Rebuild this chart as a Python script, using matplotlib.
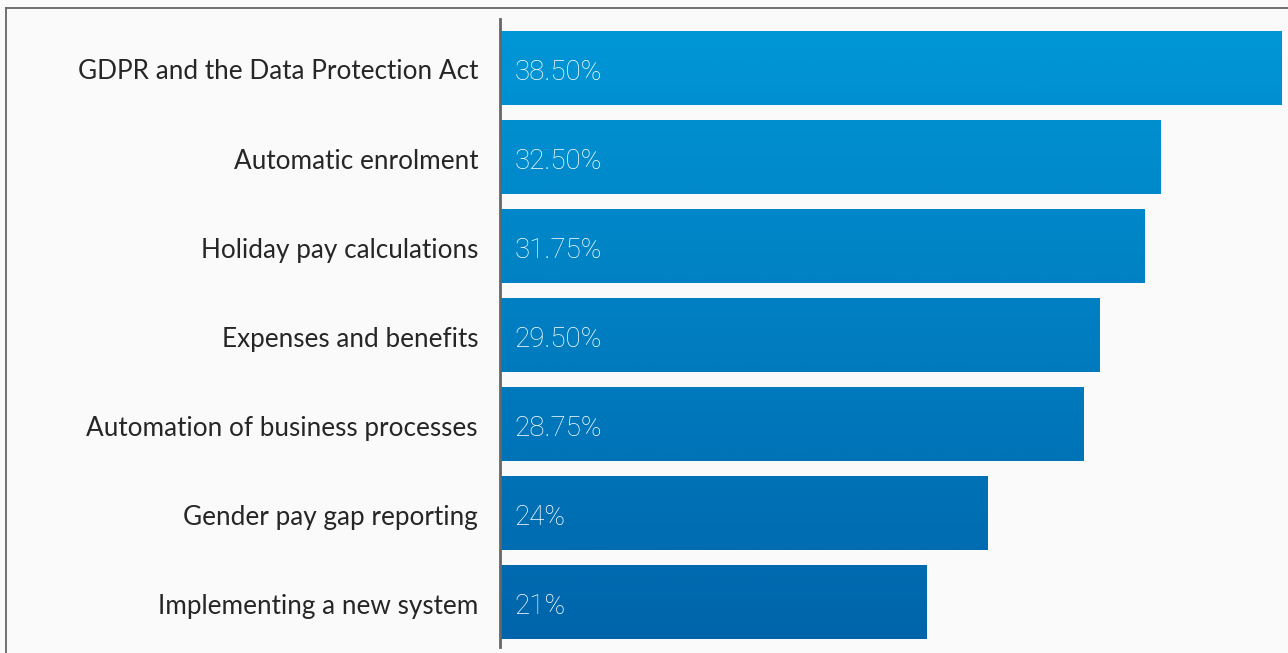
import numpy as np
import matplotlib
matplotlib.use("Agg")
import matplotlib.pyplot as plt
import matplotlib.transforms as mtransforms
from matplotlib.colors import LinearSegmentedColormap
from matplotlib.lines import Line2D

# survey topics and share of respondents
topics = ["GDPR and the Data Protection Act",
          "Automatic enrolment",
          "Holiday pay calculations",
          "Expenses and benefits",
          "Automation of business processes",
          "Gender pay gap reporting",
          "Implementing a new system"]
shares = [38.50, 32.50, 31.75, 29.50, 28.75, 24, 21]
share_labels = ["38.50%", "32.50%", "31.75%", "29.50%", "28.75%", "24%", "21%"]

bg = "#fafafa"
fig = plt.figure(figsize=(12.88, 6.53), dpi=100, facecolor=bg)
ax = fig.add_axes([500/1288, 6/653, 788/1288, 628/653], facecolor=bg)

ypos = np.arange(len(topics))
ylo, yhi = 6.5, -0.55

# blue gradient running down the whole chart
grad = LinearSegmentedColormap.from_list("blues", ["#0097d7", "#0064aa"])
bars = ax.barh(ypos, shares, height=0.83, color="#0080c0", zorder=2)
for b in bars:
    y0 = b.get_y()
    y1 = y0 + b.get_height()
    t0 = (y0 - yhi) / (ylo - yhi)
    t1 = (y1 - yhi) / (ylo - yhi)
    g = np.linspace(t0, t1, 50).reshape(-1, 1)
    im = ax.imshow(g, cmap=grad, vmin=0, vmax=1, aspect="auto",
                   extent=(0, b.get_width(), y1, y0), zorder=3,
                   interpolation="bilinear")
    im.set_clip_path(b)

for y, lab in zip(ypos, share_labels):
    ax.text(0.7, y + 0.05, lab, color="white", fontsize=20, fontfamily="Roboto",
            fontweight="light", va="center", ha="left", zorder=4)

# category names to the left of the axis line
name_trans = ax.get_yaxis_transform() + mtransforms.ScaledTranslation(
    -22/100, -4/100, fig.dpi_scale_trans)
for y, name in zip(ypos, topics):
    ax.text(0, y, name, transform=name_trans, fontsize=18.8, fontfamily="Lato",
            color="#262626", ha="right", va="center")

ax.set_xlim(0, 38.5 * 788 / 782)
ax.set_ylim(ylo, yhi)
ax.set_yticks([])
ax.set_xticks([])
for s in ["top", "right", "bottom"]:
    ax.spines[s].set_visible(False)
ax.spines["left"].set_color("#666666")
ax.spines["left"].set_linewidth(2)
ax.spines["left"].set_zorder(5)

# thin frame on the top and left edges
fig.add_artist(Line2D([6/1288, 1], [1 - 8/653, 1 - 8/653], color="#666666",
                      lw=1.3, transform=fig.transFigure))
fig.add_artist(Line2D([6/1288, 6/1288], [0, 1 - 8/653], color="#666666",
                      lw=1.3, transform=fig.transFigure))

fig.savefig("out.png", dpi=100, facecolor=bg)
